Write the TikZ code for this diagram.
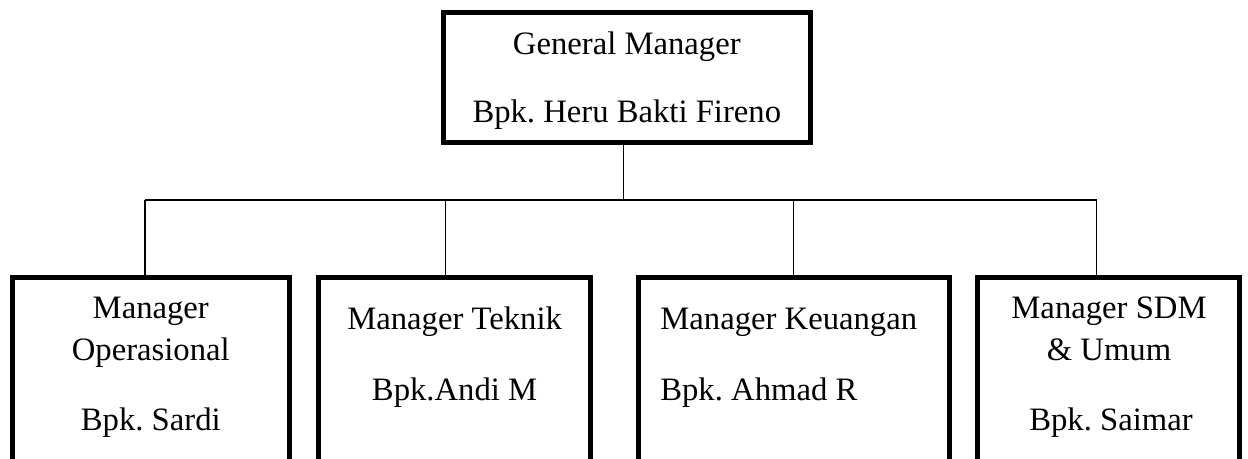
\documentclass[tikz,border=0pt]{standalone}
\usepackage{fontspec}
\setmainfont{Liberation Serif}
\frenchspacing

\begin{document}
\begin{tikzpicture}[x=0.02cm, y=-0.02cm,
    box/.style = {rectangle,draw,line width=1mm,inner sep=0pt},
    lbl/.style = {font=\fontsize{18.6}{22}\selectfont,anchor=base,inner sep=0pt},
    link/.style = {draw,line width=0.75pt}]
    \useasboundingbox (0,0) rectangle (1248,459);
    \clip (0,0) rectangle (1248,459);
    % boxes
    \node[box,minimum width=7.334cm,minimum height=2.6cm] (gm) at (626.8,77.5) {};
    \foreach \n/\cx/\w in {b1/150.85/5.53cm, b2/454.65/5.45cm, b3/793.7/6.22cm, b4/1108.5/5.24cm}
        \node[box,minimum width=\w,minimum height=4.85cm] (\n) at (\cx,398.75) {};
    % texts
    \node[lbl] (gmt) at (626.8,55) {General Manager};
    \node[lbl] (gmn) at (626.8,123) {Bpk. Heru Bakti Fireno};
    \node[lbl] (b1t) at (150.8,318) {Manager};
    \node[lbl] (b1u) at (150.8,360) {Operasional};
    \node[lbl] (b1n) at (150.8,430) {Bpk. Sardi};
    \node[lbl] (b2t) at (454.6,330) {Manager Teknik};
    \node[lbl] (b2n) at (454.6,400) {Bpk.Andi M};
    \node[lbl,anchor=base west] (b3t) at (660,330) {Manager Keuangan};
    \node[lbl,anchor=base west] (b3n) at (660,400) {Bpk. Ahmad R};
    \node[lbl] (b4t) at (1109,318) {Manager SDM};
    \node[lbl] (b4u) at (1109,360) {\& Umum};
    \node[lbl] (b4n) at (1111,430) {Bpk. Saimar};
    % connectors
    \coordinate (j0) at (623.3,200);
    \foreach \n/\jx in {1/145, 2/445.7, 3/793.3, 4/1096.7}
        \coordinate (j\n) at (\jx,200);
    \draw[link] (j0 |- gm.south) -- (j0);
    \draw[link] (j1) -- (j4);
    \foreach \n in {1,...,4}
        \draw[link] (j\n) -- (j\n |- b\n.north);
\end{tikzpicture}
\end{document}
